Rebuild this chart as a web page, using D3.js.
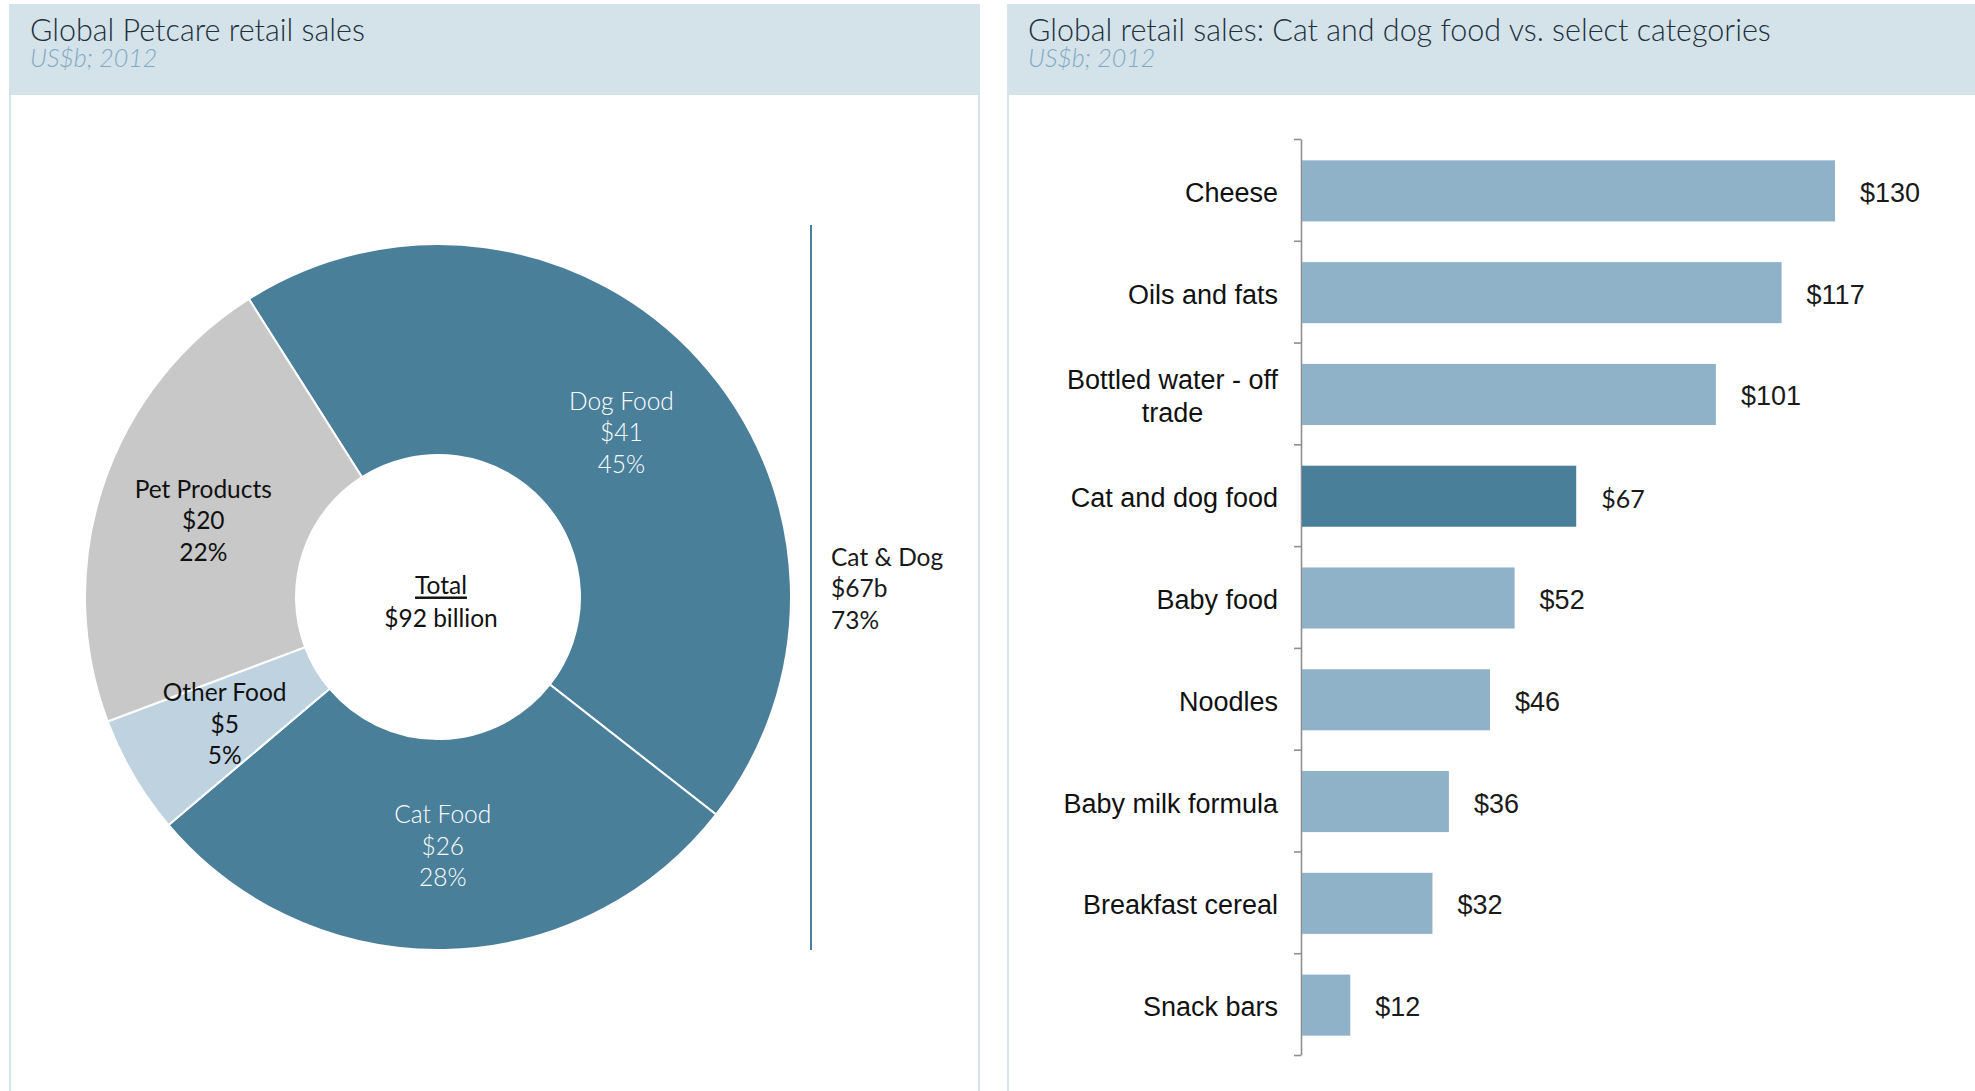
<!DOCTYPE html>
<html>
<head>
<meta charset="utf-8">
<script src="https://cdn.jsdelivr.net/npm/d3@7"></script>
<style>
  html, body { margin: 0; padding: 0; background: #ffffff; }
  svg { display: block; }
</style>
</head>
<body>
<svg id="chart" width="1975" height="1091"></svg>
<script>
// Petcare breakdown (US$b, 2012)
const segmentNames = ["Dog Food", "Cat Food", "Other Food", "Pet Products"];
const segmentValues = [41, 26, 5, 20];
const segmentColors = ["#4a7f9a", "#4a7f9a", "#bed2df", "#c8c8c8"];
const segmentTextColors = ["#ffffff", "#ffffff", "#111111", "#111111"];

// Retail categories compared with cat and dog food (US$b, 2012)
const categories = ["Cheese", "Oils and fats", "Bottled water - off trade", "Cat and dog food",
  "Baby food", "Noodles", "Baby milk formula", "Breakfast cereal", "Snack bars"];
const categoryValues = [130, 117, 101, 67, 52, 46, 36, 32, 12];
const highlighted = "Cat and dog food";

const svg = d3.select("#chart");
const humanist = "Lato, 'Open Sans', sans-serif";
const grotesk = "'Liberation Sans', Arial, sans-serif";

// ---- panels ----
const panels = [
  { x: 10, w: 969, title: "Global Petcare retail sales", sub: "US$b; 2012" },
  { x: 1008, w: 980, title: "Global retail sales: Cat and dog food vs. select categories", sub: "US$b; 2012" }
];
panels.forEach(p => {
  svg.append("rect").attr("x", p.x).attr("y", 5).attr("width", p.w).attr("height", 1100)
    .attr("fill", "#ffffff").attr("stroke", "#d3e2ec").attr("stroke-width", 2);
  svg.append("rect").attr("x", p.x).attr("y", 5).attr("width", p.w).attr("height", 90)
    .attr("fill", "#d4e2ea");
  svg.append("text").attr("x", p.x + 20).attr("y", 41)
    .attr("font-family", humanist).attr("font-weight", 300).attr("font-size", 30.5)
    .attr("fill", "#22303a").text(p.title);
  svg.append("text").attr("x", p.x + 20).attr("y", 67)
    .attr("font-family", humanist).attr("font-style", "italic").attr("font-weight", 300)
    .attr("font-size", 25).attr("fill", "#82a9c4").text(p.sub);
});

// ---- donut ----
const cx = 438, cy = 597, rOuter = 353, rInner = 142;
const total = d3.sum(segmentValues);
const startOffset = -32.4 * Math.PI / 180;
const pie = d3.pie().sort(null).value(d => d.value)
  .startAngle(startOffset).endAngle(startOffset + 2 * Math.PI);
const segs = segmentNames.map((n, i) => ({ name: n, value: segmentValues[i], i }));
const arcs = pie(segs);
const arc = d3.arc().innerRadius(rInner).outerRadius(rOuter);

const donut = svg.append("g").attr("transform", `translate(${cx},${cy})`);
donut.selectAll("path.slice").data(arcs).join("path")
  .attr("class", "slice")
  .attr("d", arc)
  .attr("fill", d => segmentColors[d.data.i])
  .attr("stroke", "#ffffff").attr("stroke-width", 2);

arcs.forEach(d => {
  const [lx, ly] = arc.centroid(d);
  const lines = [d.data.name, "$" + d.data.value, Math.round(d.data.value / total * 100) + "%"];
  const t = donut.append("text")
    .attr("font-family", humanist).attr("font-size", 24.5)
    .attr("fill", segmentTextColors[d.data.i])
    .attr("font-weight", d.data.i < 2 ? 300 : 400)
    .attr("text-anchor", "middle");
  lines.forEach((s, k) => {
    t.append("tspan").attr("x", lx).attr("y", ly + 1 + (k - 1) * 31.5)
      .attr("dominant-baseline", "central").text(s);
  });
});

// centre total
donut.append("text").attr("x", 3).attr("y", -13).attr("text-anchor", "middle")
  .attr("dominant-baseline", "central")
  .attr("font-family", humanist).attr("font-size", 24.5).attr("fill", "#111")
  .attr("text-decoration", "underline").text("Total");
donut.append("text").attr("x", 3).attr("y", 20).attr("text-anchor", "middle")
  .attr("dominant-baseline", "central")
  .attr("font-family", humanist).attr("font-size", 24.5).attr("fill", "#111")
  .text("$" + total + " billion");

// cat & dog bracket
const catDog = segmentValues[0] + segmentValues[1];
svg.append("line").attr("x1", 811).attr("x2", 811).attr("y1", 225).attr("y2", cy + rOuter)
  .attr("stroke", "#4a7f9a").attr("stroke-width", 2);
const cd = svg.append("text").attr("font-family", humanist).attr("font-size", 24.5).attr("fill", "#1a1a1a");
["Cat & Dog", "$" + catDog + "b", Math.round(catDog / total * 100) + "%"].forEach((s, k) => {
  cd.append("tspan").attr("x", 831).attr("y", 556 + k * 31.5).attr("dominant-baseline", "central").text(s);
});

// ---- bar chart ----
const y = d3.scaleBand().domain(categories).range([139, 1055]).paddingInner(0.4).paddingOuter(0.2);
const x = d3.scaleLinear().domain([0, 130]).range([1301, 1835]);
const tickScale = d3.scaleLinear().domain([0, categories.length]).range([139, 1055]);

const axisG = svg.append("g").attr("transform", "translate(1301,0)")
  .call(d3.axisLeft(tickScale).tickValues(d3.range(categories.length + 1))
    .tickSize(7).tickSizeOuter(0).tickFormat(""));
axisG.selectAll("path, line").attr("stroke", "#8f8f8f").attr("stroke-width", 1.6);

svg.append("g").selectAll("rect").data(categories).join("rect")
  .attr("x", x(0) + 1)
  .attr("y", d => y(d) + 1)
  .attr("width", (d, i) => x(categoryValues[i]) - x(0) - 1)
  .attr("height", y.bandwidth())
  .attr("fill", d => d === highlighted ? "#4a7f9a" : "#8fb2c9");

const labelSize = 27;
categories.forEach((c, i) => {
  const yc = y(c) + y.bandwidth() / 2 + 3;
  if (c.startsWith("Bottled")) {
    const first = svg.append("text").attr("x", 1278).attr("y", yc - 16).attr("text-anchor", "end")
      .attr("dominant-baseline", "central").attr("font-family", grotesk).attr("font-size", labelSize)
      .attr("fill", "#111").text("Bottled water - off");
    const w = first.node().getComputedTextLength();
    svg.append("text").attr("x", 1278 - w / 2).attr("y", yc + 17).attr("text-anchor", "middle")
      .attr("dominant-baseline", "central").attr("font-family", grotesk).attr("font-size", labelSize)
      .attr("fill", "#111").text("trade");
  } else {
    svg.append("text").attr("x", 1278).attr("y", yc).attr("text-anchor", "end")
      .attr("dominant-baseline", "central").attr("font-family", grotesk).attr("font-size", labelSize)
      .attr("fill", "#111").text(c);
  }
  const hl = c === highlighted;
  svg.append("text").attr("x", x(categoryValues[i]) + 25).attr("y", yc)
    .attr("dominant-baseline", "central")
    .attr("font-family", hl ? humanist : grotesk).attr("font-weight", 400)
    .attr("font-size", hl ? 25 : labelSize)
    .attr("fill", "#1a1a1a").text("$" + categoryValues[i]);
});
</script>
</body>
</html>
